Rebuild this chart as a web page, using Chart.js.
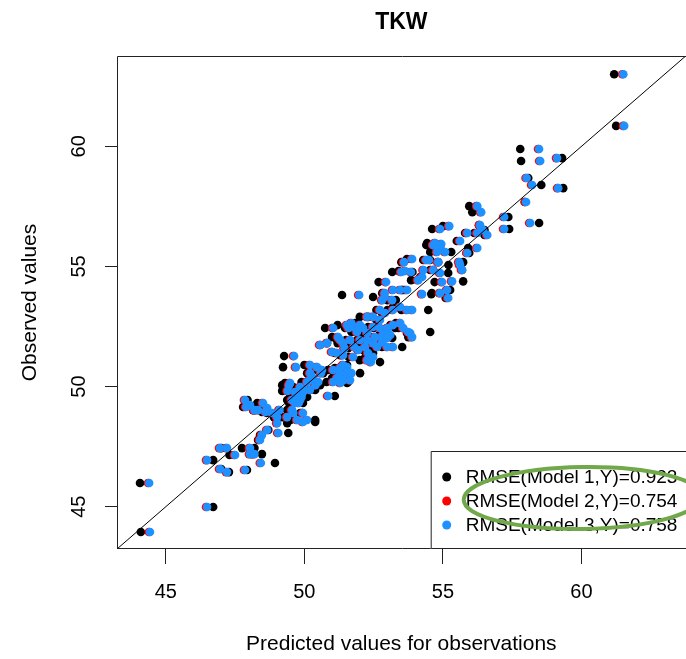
<!DOCTYPE html>
<html>
<head>
<meta charset="utf-8">
<script src="https://cdn.jsdelivr.net/npm/chart.js@4.4.1/dist/chart.umd.min.js"></script>
<style>
html, body { margin: 0; padding: 0; overflow: hidden; background: #fff; }
#wrap { width: 690px; height: 659px; }
</style>
</head>
<body>
<div id="wrap"><canvas id="tkw" width="690" height="659"></canvas></div>
<script>
// axis settings
const axisMin = 43.24;
const axisMax = 63.76;
const xTicks = [45, 50, 55, 60];
const yTicks = [45, 50, 55, 60];

const modelNames = ['Model 1', 'Model 2', 'Model 3'];
const rmseValues = [0.923, 0.754, 0.758];

// observed TKW
const observed = [
  63.0, 60.85, 59.89, 59.39, 59.51, 58.68, 58.39, 58.26, 57.68, 57.06,
  56.56, 56.81, 57.51, 57.26, 56.56, 56.68, 56.72, 56.52, 56.31, 56.39,
  56.39, 55.89, 55.93, 56.06, 55.77, 55.97, 55.6, 55.81, 55.6, 55.56,
  55.18, 54.85, 55.06, 54.73, 54.02, 54.38, 55.18, 54.85, 54.35, 53.69,
  53.89, 55.27, 55.27, 54.85, 55.18, 55.31, 54.77, 54.81, 54.77, 54.35,
  53.73, 54.02, 54.02, 54.02, 54.43, 54.56, 53.85, 53.81, 53.89, 53.6,
  53.6, 53.19, 53.06, 53.19, 53.31, 53.19, 53.19, 52.9, 52.9, 52.77,
  52.56, 52.64, 52.44, 52.23, 52.06, 52.27, 52.44, 52.56, 52.48, 52.56,
  52.27, 52.44, 52.23, 52.44, 52.64, 52.48, 52.44, 52.35, 52.15, 52.15,
  52.06, 52.44, 52.06, 52.02, 52.06, 51.81, 51.94, 51.94, 51.65, 51.94,
  51.81, 51.65, 51.85, 51.65, 51.94, 51.6, 51.65, 51.52, 51.4, 51.02,
  51.65, 51.81, 51.73, 51.44, 51.4, 51.31, 51.23, 51.1, 51.23, 51.27,
  50.81, 50.56, 50.27, 50.06, 50.9, 50.81, 50.56, 50.36, 50.19, 50.19,
  50.69, 50.69, 50.77, 50.81, 50.56, 50.56, 50.36, 50.27, 50.27, 50.19,
  50.9, 50.19, 50.56, 50.15, 49.98, 49.77, 49.65, 49.44, 49.32, 49.82,
  49.44, 49.32, 49.57, 49.86, 49.86, 49.61, 49.44, 49.23, 49.32, 49.11,
  48.9, 49.02, 49.15, 49.02, 48.94, 49.02, 48.9, 48.61, 48.73, 48.73,
  49.02, 48.61, 48.9, 48.53, 48.48, 48.07, 48.19, 47.98, 47.78, 47.44,
  47.44, 47.15, 47.44, 47.19, 47.19, 46.82, 46.94, 46.57, 46.44, 46.53,
  45.99, 43.95, 44.99, 50.06, 50.15, 49.77
];

// predictions, model 1 (black)
const predModel1 = [
  61.18, 61.25, 57.79, 57.82, 59.3, 58.08, 58.55, 59.34, 57.95, 57.36,
  57.39, 58.47, 55.95, 56.06, 54.61, 55.0, 56.3, 56.5, 56.5, 55.8,
  56.13, 54.4, 54.7, 55.5, 55.91, 54.43, 54.54, 54.9, 55.3, 55.95,
  55.73, 55.69, 55.2, 55.19, 55.26, 55.73, 54.83, 54.65, 54.7, 55.1,
  54.6, 54.54, 54.29, 54.54, 53.5, 53.7, 53.17, 53.4, 53.9, 52.68,
  52.48, 53.5, 53.53, 53.6, 53.85, 54.18, 54.58, 51.36, 52.81, 53.0,
  53.3, 52.6, 52.8, 53.0, 53.2, 53.5, 54.47, 52.0, 52.3, 52.6,
  53.1, 53.3, 53.4, 53.7, 53.75, 54.54, 50.75, 51.2, 51.6, 51.8,
  51.7, 52.0, 52.1, 51.47, 51.83, 52.3, 52.5, 52.8, 52.7, 52.9,
  52.4, 53.28, 52.99, 53.17, 51.0, 51.2, 51.5, 51.9, 52.0, 52.1,
  52.3, 52.4, 52.6, 52.8, 51.18, 51.58, 51.9, 52.12, 52.48, 52.73,
  53.53, 50.82, 50.57, 51.0, 51.1, 51.3, 51.6, 52.0, 52.2, 49.27,
  49.23, 50.68, 50.32, 50.57, 50.0, 50.2, 50.1, 50.2, 49.9, 50.3,
  50.45, 50.85, 51.1, 51.3, 51.1, 51.35, 51.0, 51.2, 51.45, 50.8,
  51.54, 51.58, 52.01, 49.3, 49.6, 49.7, 49.5, 49.6, 49.45, 49.2,
  49.38, 49.95, 50.1, 50.21, 50.39, 51.1, 47.95, 48.0, 48.3, 48.5,
  48.65, 48.2, 47.79, 48.15, 48.47, 49.38, 49.85, 50.39, 48.9, 49.2,
  49.4, 49.5, 49.92, 50.39, 49.38, 49.42, 48.7, 48.4, 48.33, 47.75,
  47.0, 47.3, 48.2, 48.1, 48.47, 48.94, 46.71, 47.0, 47.28, 47.93,
  44.07, 44.1, 46.71, 49.2, 51.54, 49.45
];

// predictions, model 2 (red, almost under the blue ones)
const predModel2 = [
  61.47, 61.50, 58.43, 58.47, 59.08, 57.98, 58.18, 59.12, 57.96, 57.17,
  57.17, 58.11, 56.20, 56.34, 54.86, 55.19, 56.30, 56.41, 56.56, 55.84,
  56.20, 54.61, 54.90, 55.58, 56.20, 54.68, 54.75, 54.82, 55.04, 55.84,
  55.55, 55.65, 55.58, 54.86, 55.11, 55.29, 54.79, 54.61, 54.93, 55.15,
  54.86, 54.36, 54.46, 54.26, 53.56, 53.85, 53.46, 53.60, 53.81, 52.91,
  52.86, 53.16, 53.42, 53.67, 54.07, 54.21, 54.21, 51.94, 52.86, 52.77,
  53.13, 52.69, 52.87, 53.16, 53.42, 53.67, 53.85, 52.23, 52.44, 52.69,
  53.16, 53.42, 53.53, 53.78, 53.85, 53.71, 51.00, 51.50, 51.72, 51.97,
  51.86, 52.08, 52.23, 51.56, 51.66, 52.44, 52.69, 52.95, 52.80, 53.06,
  52.51, 52.96, 52.76, 52.96, 51.18, 51.36, 51.61, 51.97, 52.15, 52.23,
  52.44, 52.59, 52.77, 52.95, 51.26, 51.41, 51.76, 51.91, 52.26, 52.36,
  53.16, 50.78, 50.53, 50.96, 51.14, 51.36, 51.72, 52.23, 52.44, 49.59,
  49.66, 50.56, 50.16, 50.36, 50.17, 50.42, 50.17, 50.28, 50.06, 50.46,
  50.60, 51.00, 51.25, 51.50, 51.25, 51.50, 51.14, 51.36, 51.61, 51.00,
  51.36, 51.26, 51.66, 49.45, 49.81, 49.91, 49.70, 49.81, 49.63, 49.36,
  49.51, 49.76, 49.86, 49.96, 50.16, 50.82, 47.82, 48.00, 48.47, 48.62,
  48.80, 48.29, 47.86, 48.16, 48.56, 49.06, 49.56, 50.06, 48.98, 49.34,
  49.52, 49.70, 49.91, 49.91, 48.98, 49.02, 48.62, 48.43, 48.36, 46.92,
  47.17, 47.46, 48.00, 48.00, 48.16, 48.39, 46.45, 46.92, 47.17, 47.82,
  44.36, 44.39, 46.45, 49.41, 51.26, 49.63
];

// predictions, model 3 (blue)
const predModel3 = [
  61.51, 61.54, 58.47, 58.51, 59.12, 58.02, 58.22, 59.16, 58.0, 57.21,
  57.21, 58.15, 56.24, 56.38, 54.9, 55.23, 56.34, 56.45, 56.6, 55.88,
  56.24, 54.65, 54.94, 55.62, 56.24, 54.72, 54.79, 54.86, 55.08, 55.88,
  55.59, 55.69, 55.62, 54.9, 55.15, 55.33, 54.83, 54.65, 54.97, 55.19,
  54.9, 54.4, 54.5, 54.3, 53.6, 53.89, 53.5, 53.64, 53.85, 52.95,
  52.9, 53.2, 53.46, 53.71, 54.11, 54.25, 54.25, 51.98, 52.9, 52.81,
  53.17, 52.73, 52.91, 53.2, 53.46, 53.71, 53.89, 52.27, 52.48, 52.73,
  53.2, 53.46, 53.57, 53.82, 53.89, 53.75, 51.04, 51.54, 51.76, 52.01,
  51.9, 52.12, 52.27, 51.6, 51.7, 52.48, 52.73, 52.99, 52.84, 53.1,
  52.55, 53.0, 52.8, 53.0, 51.22, 51.4, 51.65, 52.01, 52.19, 52.27,
  52.48, 52.63, 52.81, 52.99, 51.3, 51.45, 51.8, 51.95, 52.3, 52.4,
  53.2, 50.82, 50.57, 51.0, 51.18, 51.4, 51.76, 52.27, 52.48, 49.63,
  49.7, 50.6, 50.2, 50.4, 50.21, 50.46, 50.21, 50.32, 50.1, 50.5,
  50.64, 51.04, 51.29, 51.54, 51.29, 51.54, 51.18, 51.4, 51.65, 51.04,
  51.4, 51.3, 51.7, 49.49, 49.85, 49.95, 49.74, 49.85, 49.67, 49.4,
  49.55, 49.8, 49.9, 50.0, 50.2, 50.86, 47.86, 48.04, 48.51, 48.66,
  48.84, 48.33, 47.9, 48.2, 48.6, 49.1, 49.6, 50.1, 49.02, 49.38,
  49.56, 49.74, 49.95, 49.95, 49.02, 49.06, 48.66, 48.47, 48.4, 46.96,
  47.21, 47.5, 48.04, 48.04, 48.2, 48.43, 46.49, 46.96, 47.21, 47.86,
  44.4, 44.43, 46.49, 49.45, 51.3, 49.67
];

const modelColors = ['#000000', '#ff0000', '#1e90ff'];
const fontFamily = '"Liberation Sans", Arial, Helvetica, sans-serif';

Chart.defaults.font.family = fontFamily;
Chart.defaults.color = '#000';

function toPoints(pred) {
  return pred.map((p, i) => ({ x: p, y: observed[i] }));
}

// box around the plot region (right side falls outside the picture)
const plotBox = {
  id: 'plotBox',
  afterDatasetsDraw(chart) {
    const a = chart.chartArea;
    const ctx = chart.ctx;
    ctx.save();
    ctx.strokeStyle = '#222';
    ctx.lineWidth = 1;
    ctx.beginPath();
    ctx.moveTo(a.right + 2, a.top + 0.5);
    ctx.lineTo(a.left + 0.5, a.top + 0.5);
    ctx.lineTo(a.left + 0.5, a.bottom - 0.5);
    ctx.lineTo(a.right + 2, a.bottom - 0.5);
    ctx.stroke();
    ctx.restore();
  }
};

// R-style legend in the bottom right corner, plus the green ring
const rLegend = {
  id: 'rLegend',
  afterDraw(chart) {
    const a = chart.chartArea;
    const ctx = chart.ctx;
    const lx = a.right - 255;
    const ly = a.bottom - 98;
    ctx.save();
    ctx.fillStyle = '#fff';
    ctx.fillRect(lx, ly, a.right - lx + 4, a.bottom - ly);
    ctx.strokeStyle = '#222';
    ctx.lineWidth = 1;
    ctx.beginPath();
    ctx.moveTo(a.right + 4, ly + 0.5);
    ctx.lineTo(lx + 0.5, ly + 0.5);
    ctx.lineTo(lx + 0.5, a.bottom - 0.5);
    ctx.lineTo(a.right + 4, a.bottom - 0.5);
    ctx.stroke();

    const sets = chart.data.datasets.filter(d => d.legendText);
    sets.forEach((d, i) => {
      const cy = ly + 26 + i * 24;
      ctx.beginPath();
      ctx.arc(lx + 16, cy, 4.5, 0, Math.PI * 2);
      ctx.fillStyle = d.backgroundColor;
      ctx.fill();
      ctx.fillStyle = '#000';
      ctx.font = '19px ' + fontFamily;
      ctx.textBaseline = 'middle';
      ctx.textAlign = 'left';
      ctx.fillText(d.legendText, lx + 35, cy + 1);
    });

    // hand-drawn highlight around the legend
    ctx.beginPath();
    ctx.ellipse(lx + 152, ly + 47, 119, 31, -0.015, 0, Math.PI * 2);
    ctx.strokeStyle = '#70a84a';
    ctx.lineWidth = 4;
    ctx.stroke();
    ctx.restore();
  }
};

const pointDataset = (k) => ({
  type: 'scatter',
  label: modelNames[k],
  legendText: 'RMSE(' + modelNames[k] + ',Y)=' + rmseValues[k].toFixed(3),
  data: toPoints([predModel1, predModel2, predModel3][k]),
  backgroundColor: modelColors[k],
  borderColor: modelColors[k],
  borderWidth: 0,
  pointRadius: 4.3,
  order: 3 - k
});

const ctx = document.getElementById('tkw').getContext('2d');
new Chart(ctx, {
  data: {
    datasets: [
      {
        type: 'line',
        label: 'y = x',
        data: [{ x: axisMin, y: axisMin }, { x: axisMax, y: axisMax }],
        borderColor: '#000',
        borderWidth: 1,
        pointRadius: 0,
        order: 0
      },
      pointDataset(0),
      pointDataset(1),
      pointDataset(2)
    ]
  },
  options: {
    responsive: false,
    animation: false,
    devicePixelRatio: 1,
    layout: { padding: { left: 0, right: 3, top: 0, bottom: 0 } },
    plugins: {
      legend: { display: false },
      tooltip: { enabled: false },
      title: {
        display: true,
        fullSize: false,
        text: 'TKW',
        color: '#000',
        font: { size: 23, weight: 'bold', family: fontFamily },
        padding: { top: 9, bottom: 19.4 }
      }
    },
    scales: {
      x: {
        type: 'linear',
        position: 'bottom',
        min: axisMin,
        max: axisMax,
        afterBuildTicks: s => { s.ticks = xTicks.map(v => ({ value: v })); },
        afterFit: s => { s.height = 110; },
        grid: { display: true, drawOnChartArea: false, drawTicks: true, tickLength: 15, tickColor: '#222' },
        border: { display: false },
        ticks: { font: { size: 20 }, color: '#000', padding: 16, maxRotation: 0, minRotation: 0 },
        title: {
          display: true,
          text: 'Predicted values for observations',
          font: { size: 21 },
          color: '#000',
          padding: { top: 0, bottom: 2 }
        }
      },
      y: {
        type: 'linear',
        position: 'left',
        min: axisMin,
        max: axisMax,
        afterBuildTicks: s => { s.ticks = yTicks.map(v => ({ value: v })); },
        afterFit: s => { s.width = 117; },
        grid: { display: true, drawOnChartArea: false, drawTicks: true, tickLength: 12, tickColor: '#222' },
        border: { display: false },
        ticks: { font: { size: 20 }, color: '#000', padding: 14, minRotation: 90, maxRotation: 90, crossAlign: 'center' },
        title: {
          display: true,
          text: 'Observed values',
          font: { size: 21 },
          color: '#000',
          padding: { top: 17.4, bottom: 0 }
        }
      }
    }
  },
  plugins: [plotBox, rLegend]
});
</script>
</body>
</html>
